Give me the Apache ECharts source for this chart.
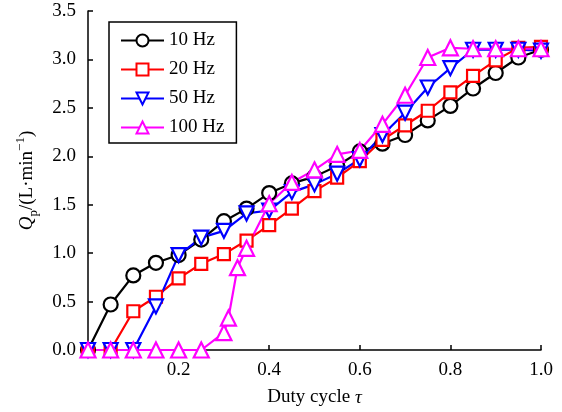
<!DOCTYPE html>
<html>
<head>
<meta charset="utf-8">
<script src="https://cdn.jsdelivr.net/npm/echarts@6/dist/echarts.min.js"></script>
<style>html,body{margin:0;padding:0;background:#fff;}#c{width:562px;height:412px;}</style>
</head>
<body>
<div id="c"></div>
<script>
var duty = [0,0.05,0.10,0.15,0.20,0.25,0.30,0.35,0.40,0.45,0.50,0.55,0.60,0.65,0.70,0.75,0.80,0.85,0.90,0.95,1.00];
var q10 = [0,0.47,0.77,0.90,0.98,1.14,1.33,1.46,1.62,1.72,1.79,1.90,2.05,2.13,2.22,2.37,2.52,2.70,2.86,3.02,3.10];
var q20 = [0,0,0.40,0.55,0.74,0.89,0.99,1.13,1.29,1.46,1.64,1.78,1.95,2.17,2.32,2.47,2.66,2.83,2.99,3.12,3.13];
var q50 = [0,0,0,0.45,0.98,1.16,1.23,1.41,1.44,1.63,1.71,1.82,1.97,2.22,2.45,2.71,2.91,3.10,3.10,3.10,3.09];
var duty100 = [0,0.05,0.10,0.15,0.20,0.25,0.30,0.31,0.33,0.35,0.40,0.45,0.50,0.55,0.60,0.65,0.70,0.75,0.80,0.85,0.90,0.95,1.00];
var q100 = [0,0,0,0,0,0,0.18,0.33,0.85,1.05,1.51,1.73,1.86,2.02,2.06,2.33,2.63,3.02,3.12,3.11,3.11,3.11,3.11];
var seriesNames = ['10 Hz','20 Hz','50 Hz','100 Hz'];
var xTicks = [0.2,0.4,0.6,0.8,1.0];

function pairs(xs, ys){ return xs.map(function(x,i){ return [x, ys[i]]; }); }
var FONT = '"Liberation Serif","Times New Roman",serif';

function mk(name, xs, ys, color, symbol, size, rot){
  return {
    name: name, type: 'line', data: pairs(xs, ys),
    symbol: symbol, symbolSize: size, symbolRotate: rot || 0,
    showAllSymbol: true,
    lineStyle: {color: color, width: 2.2},
    itemStyle: {color: '#fff', borderColor: color, borderWidth: 2.2},
    emphasis: {disabled: true},
    animation: false
  };
}

var chart = echarts.init(document.getElementById('c'));
chart.setOption({
  backgroundColor: '#fff',
  animation: false,
  grid: {left: 88, right: 21, top: 11, bottom: 60},
  legend: {
    orient: 'vertical', left: 109, top: 22,
    borderColor: '#000', borderWidth: 1.5,
    padding: [9, 12, 6, 11],
    itemGap: 10, itemWidth: 43, itemHeight: 15,
    textStyle: {fontFamily: FONT, fontSize: 19, color: '#000', lineHeight: 19},
    data: seriesNames
  },
  xAxis: {
    type: 'value', min: 0, max: 1, interval: 0.2,
    name: '{n|Duty cycle }{i|τ}', nameLocation: 'middle', nameGap: 38,
    nameTextStyle: {rich: {
      n: {fontFamily: FONT, fontSize: 19, color: '#000'},
      i: {fontFamily: FONT, fontSize: 19, color: '#000', fontStyle: 'italic'}
    }},
    axisLine: {lineStyle: {color: '#000', width: 1.5}},
    axisTick: {inside: true, length: 5, lineStyle: {color: '#000', width: 1.5}},
    axisLabel: {fontFamily: FONT, fontSize: 19, color: '#000', margin: 11, showMinLabel: false,
      formatter: function(v){ return xTicks.indexOf(Math.round(v*10)/10) >= 0 ? v.toFixed(1) : ''; }},
    splitLine: {show: false}
  },
  yAxis: {
    type: 'value', min: 0, max: 3.5, interval: 0.5,
    name: '{q|Q}{sub|p}{n|/(L·min}{sup|−1}{n|)}', nameLocation: 'middle', nameGap: 48,
    nameTextStyle: {rich: {
      q: {fontFamily: FONT, fontSize: 19, color: '#000', fontStyle: 'italic', lineHeight: 26, verticalAlign: 'middle'},
      n: {fontFamily: FONT, fontSize: 19, color: '#000', lineHeight: 26, verticalAlign: 'middle'},
      sub: {fontFamily: FONT, fontSize: 13, color: '#000', lineHeight: 26, verticalAlign: 'bottom'},
      sup: {fontFamily: FONT, fontSize: 13, color: '#000', lineHeight: 26, verticalAlign: 'top'}
    }},
    axisLine: {show: true, lineStyle: {color: '#000', width: 1.5}},
    axisTick: {show: true, inside: true, length: 5, lineStyle: {color: '#000', width: 1.5}},
    axisLabel: {fontFamily: FONT, fontSize: 19, color: '#000', margin: 12,
      formatter: function(v){ return v.toFixed(1); }},
    splitLine: {show: false}
  },
  series: [
    mk(seriesNames[0], duty, q10, '#000000', 'circle', 14),
    mk(seriesNames[1], duty, q20, '#ff0000', 'rect', 12),
    mk(seriesNames[2], duty, q50, '#0000ff', 'triangle', 14, 180),
    mk(seriesNames[3], duty100, q100, '#ff00ff', 'triangle', 15)
  ]
});
</script>
</body>
</html>
